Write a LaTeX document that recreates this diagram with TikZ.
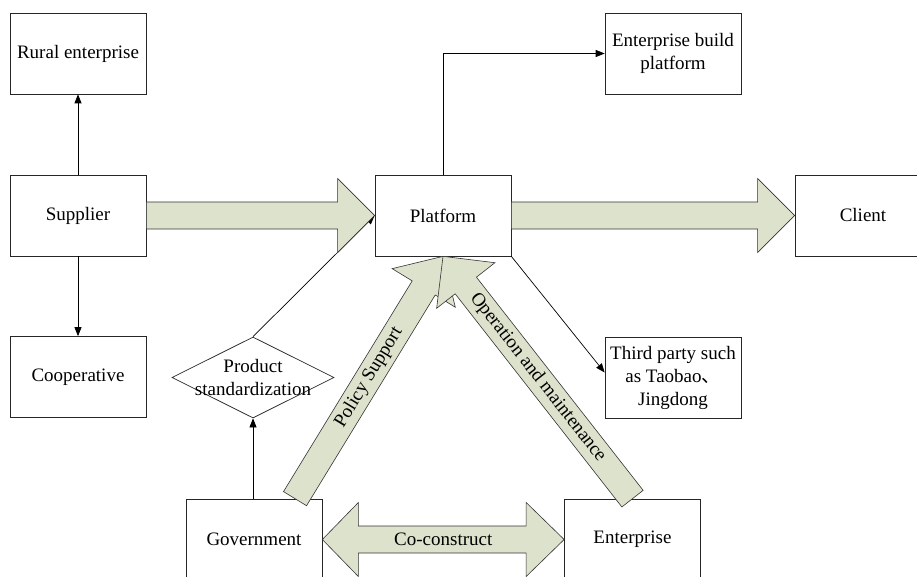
\documentclass[tikz,border=0pt]{standalone}
\usepackage{fontspec}
\setmainfont{Liberation Serif}
\newfontfamily\cjk{Noto Sans CJK SC}
\usetikzlibrary{arrows.meta,calc,shapes.geometric}
\definecolor{bandfill}{RGB}{221,226,204}

% Block arrow from #1 (tail) to #2 (tip); #3 is a tag for helper coordinates
\newcommand{\fatarrow}[3]{%
  \coordinate (#3h) at ($(#2)!37pt!(#1)$);
  \draw[band] ($(#1)!13.5pt!90:(#2)$) -- ($(#3h)!13.5pt!90:(#2)$)
    -- ($(#3h)!37pt!90:(#2)$) -- (#2) -- ($(#3h)!37pt!-90:(#2)$)
    -- ($(#3h)!13.5pt!-90:(#2)$) -- ($(#1)!13.5pt!-90:(#2)$) -- cycle;
}

\begin{document}
\begin{tikzpicture}[x=1pt,y=-1pt,
  every node/.style={font=\fontsize{19}{23}\selectfont},
  box/.style={draw=black!85, line width=0.7pt, minimum width=136pt,
    minimum height=81pt, inner sep=2pt, align=center},
  conn/.style={draw=black, line width=0.7pt, -{Triangle[length=9pt,width=7pt]}},
  band/.style={draw=black!80, line width=0.6pt, fill=bandfill, line join=miter}]

\useasboundingbox (0,0) rectangle (917,577);

% boxes
\node[box] (rural)    at (78,53.5)    {Rural enterprise};
\node[box] (supplier) at (78,215.5)   {Supplier};
\node[box] (coop)     at (78,377)     {Cooperative};
\node[box] (platform) at (443,215.5)  {Platform};
\node[box] (ebp)      at (673,53.5)   {Enterprise build\\platform};
\node[box] (client)   at (863,215.5)  {Client};
\node[box] (third)    at (673,377.5)  {Third party such\\as Taobao{\cjk 、}\\Jingdong};
\node[box] (gov)      at (254,539.5)  {Government};
\node[box] (ent)      at (632.5,539.5){Enterprise};

% decision diamond
\node[diamond, draw=black!85, line width=0.7pt, minimum width=162pt,
      minimum height=81pt, inner sep=0pt] (std) at (253,377.5) {};
\node[align=center] (stdtext) at (std.center) {Product\\standardization};

% thin connectors
\draw[conn] (supplier.north) -- (rural.south);
\draw[conn] (supplier.south) -- (coop.north);
\draw[conn] (platform.north) |- (ebp.west);
\draw[conn] (platform.south east) -- ($(third.west)+(0,-5)$);
\draw[conn] (std.north) -- (platform.west);
\draw[conn] (gov.north -| std.south) -- (std.south);

% wide flow arrows
\fatarrow{supplier.east}{platform.west}{sp}
\fatarrow{platform.east}{client.west}{pc}

\coordinate (poltail) at ($(gov.north west)!0.8!(gov.north east)$);
\fatarrow{poltail}{platform.south}{po}
\path (poltail) -- (platform.south) node[midway, sloped] (poltext) {Policy Support};

\fatarrow{ent.north}{platform.south}{op}
\path (ent.north) -- (platform.south) node[midway, sloped] (optext) {Operation and maintenance};

% two-way arrow between government and enterprise
\coordinate (cl) at (gov.east);
\coordinate (cr) at (ent.west);
\draw[band] (cl) -- ++(36,-37) -- ++(0,23.5) -- ($(cr)+(-38,-13.5)$)
  -- ($(cr)+(-38,-37)$) -- (cr) -- ($(cr)+(-38,37)$) -- ($(cr)+(-38,13.5)$)
  -- ($(cl)+(36,13.5)$) -- ($(cl)+(36,37)$) -- cycle;
\node (cotext) at ($(cl)!0.5!(cr)$) {Co-construct};

\end{tikzpicture}
\end{document}
